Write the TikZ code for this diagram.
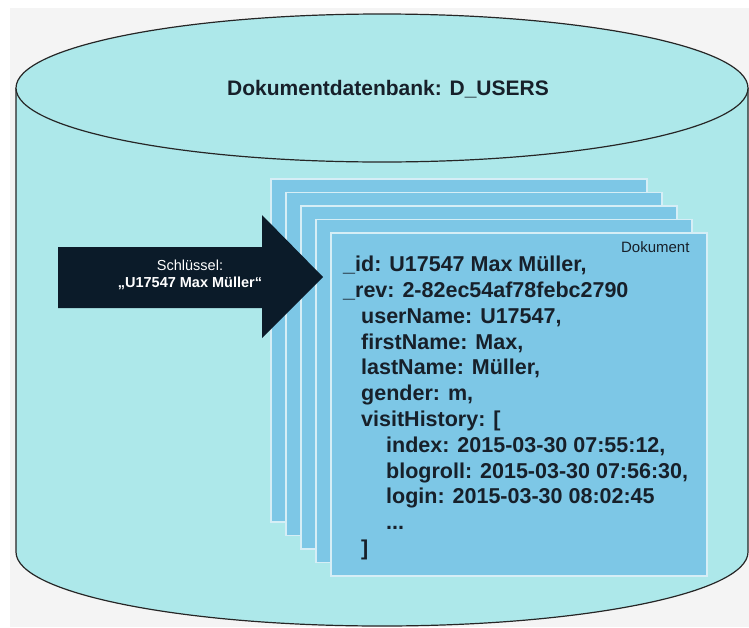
\documentclass[tikz,border=0pt]{standalone}
\usepackage{fontspec}
\setmainfont{Liberation Sans}
\usetikzlibrary{positioning}
\definecolor{bggrey}{HTML}{F4F4F4}
\definecolor{dbcyan}{HTML}{ADE8EA}
\definecolor{docblue}{HTML}{7DC7E6}
\definecolor{docedge}{HTML}{D6EEF6}
\definecolor{keynavy}{HTML}{0B1B29}
\definecolor{inkdark}{HTML}{17202A}
\newcommand{\fs}[2]{\fontsize{#1}{#2}\selectfont}
\newcommand{\ind}[1]{\hspace*{#1pt}}

\begin{document}
\begin{tikzpicture}[x=1pt,y=-1pt,
  dbline/.style={draw=black!85,line width=1.2pt},
  docsheet/.style={fill=docblue,draw=docedge,line width=1.2pt}]
\useasboundingbox (0,0) rectangle (749,627);
\fill[bggrey] (10,8) rectangle (749,627);
% the database
\fill[dbcyan] (16,88) -- (16,552) arc[start angle=180,end angle=0,x radius=366,y radius=74] -- (748,88) -- cycle;
\draw[dbline] (16,88) -- (16,552) arc[start angle=180,end angle=0,x radius=366,y radius=74] -- (748,88);
\draw[dbline,fill=dbcyan] (382,88) ellipse[x radius=366,y radius=74];
\node (title) [anchor=base,font=\bfseries\fs{21}{25},text=inkdark] at (388,95) {Dokumentdatenbank: D\_USERS};

% stack of documents
\foreach \i in {0,...,4}
  \draw[docsheet] (271+15*\i,179+13.5*\i) rectangle +(376,343);
\node (doclabel) [anchor=base east,font=\fs{15}{18},text=inkdark] at (693,252) {Dokument};
\node (record) [anchor=north west,align=left,inner sep=0pt,font=\bfseries\fs{21.5}{25.8},text=inkdark] at (343,256)
  {\_id: U17547 Max Müller,\\
   \_rev: 2-82ec54af78febc2790\\
   \ind{18}userName: U17547,\\
   \ind{18}firstName: Max,\\
   \ind{18}lastName: Müller,\\
   \ind{18}gender: m,\\
   \ind{18}visitHistory: [\\
   \ind{43}index: 2015-03-30 07:55:12,\\
   \ind{43}blogroll: 2015-03-30 07:56:30,\\
   \ind{43}login: 2015-03-30 08:02:45\\
   \ind{43}...\\
   \ind{18}]};

% the key
\fill[keynavy] (58,247) -- (262,247) -- (262,215) -- (323,277) -- (262,338) -- (262,308) -- (58,308) -- cycle;
\node (keylabel) [align=center,text=white,font=\fs{14.5}{17}] at (190,275) {Schlüssel:\\\textbf{„U17547 Max Müller“}};
\end{tikzpicture}
\end{document}
